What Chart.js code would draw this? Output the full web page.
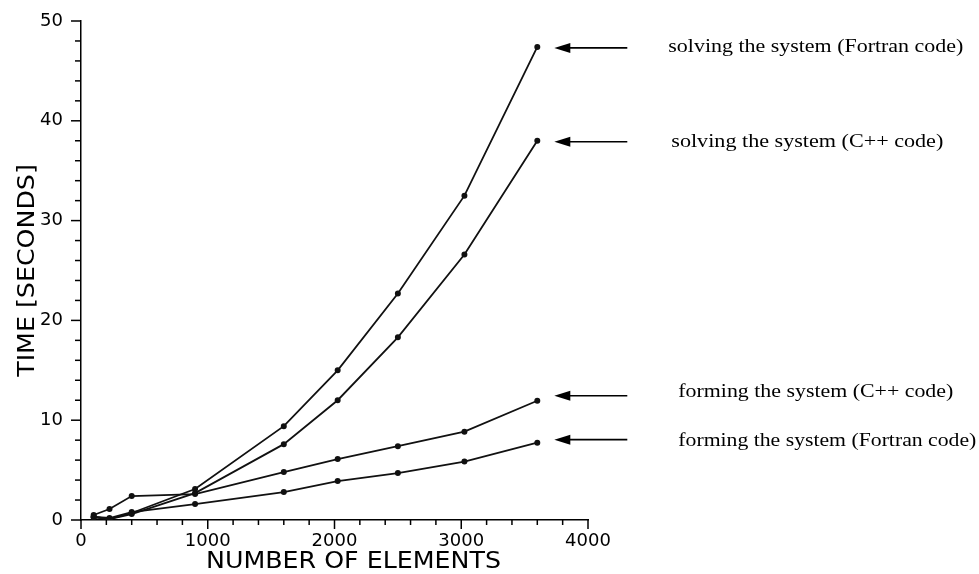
<!DOCTYPE html>
<html><head><meta charset="utf-8">
<script src="https://cdn.jsdelivr.net/npm/chart.js@4.4.1/dist/chart.umd.min.js"></script>
<style>html,body{margin:0;padding:0;background:#fff;}#wrap{width:979px;height:574px;}</style>
</head><body><div id="wrap"><canvas id="c" width="979" height="574"></canvas></div>
<script>
// ---- data ----
const elements = [100, 225, 400, 900, 1600, 2025, 2500, 3025, 3600];
const solvingFortran = [0.3, 0.1, 0.7, 3.1, 9.4, 15.0, 22.7, 32.5, 47.4];
const solvingCpp     = [0.3, 0.1, 0.6, 2.7, 7.6, 12.0, 18.3, 26.6, 38.0];
const formingCpp     = [0.5, 1.1, 2.4, 2.6, 4.8, 6.1, 7.4, 8.85, 11.95];
const formingFortran = [0.3, 0.2, 0.8, 1.6, 2.8, 3.9, 4.7, 5.85, 7.75];
const seriesLabels = [
  'solving the system (Fortran code)',
  'solving the system (C++ code)',
  'forming the system (C++ code)',
  'forming the system (Fortran code)'
];
const xTickLabels = [0, 1000, 2000, 3000, 4000];
const yTickLabels = [0, 10, 20, 30, 40, 50];
const xTitle = 'NUMBER OF ELEMENTS';
const yTitle = 'TIME [SECONDS]';

// ---- style ----
const labelStyle = [
  {textDx: 131, textDy: 0,  width: 295, arrowDy: 1},
  {textDx: 134, textDy: 1,  width: 272, arrowDy: 1},
  {textDx: 141, textDy: -9, width: 275, arrowDy: -5},
  {textDx: 141, textDy: -2, width: 298, arrowDy: -3}
];

const allSeries = [solvingFortran, solvingCpp, formingCpp, formingFortran];
const datasets = allSeries.map((vals, i) => ({
  label: seriesLabels[i],
  data: elements.map((x, j) => ({x: x, y: vals[j]})),
  borderColor: '#111', backgroundColor: '#111',
  borderWidth: 1.8, pointRadius: 2.1, pointHoverRadius: 2.1,
  showLine: true, tension: 0, fill: false
}));

const decor = {
  id: 'decor',
  afterDraw(chart) {
    const ctx = chart.ctx, xs = chart.scales.x, ys = chart.scales.y, ca = chart.chartArea;
    ctx.save();
    ctx.strokeStyle = '#000'; ctx.lineWidth = 1.5;
    // x ticks
    for (let v = 0; v <= 4000; v += 200) {
      const px = xs.getPixelForValue(v);
      const len = xTickLabels.includes(v) ? 9 : 5;
      ctx.beginPath(); ctx.moveTo(px, ca.bottom); ctx.lineTo(px, ca.bottom + len); ctx.stroke();
    }
    // y ticks
    for (let v = 0; v <= 50; v += 2) {
      const py = ys.getPixelForValue(v);
      const len = yTickLabels.includes(v) ? 10 : 6;
      ctx.beginPath(); ctx.moveTo(ca.left, py); ctx.lineTo(ca.left - len, py); ctx.stroke();
    }
    // axis titles
    ctx.fillStyle = '#000';
    ctx.font = '23px "DejaVu Sans"';
    ctx.textAlign = 'center'; ctx.textBaseline = 'middle';
    ctx.save();
    ctx.translate((ca.left + ca.right) / 2 + 19, 562);
    ctx.scale(1.1, 1);
    ctx.fillText(xTitle, 0, 0);
    ctx.restore();
    ctx.save();
    ctx.translate(28, (ca.top + ca.bottom) / 2);
    ctx.rotate(-Math.PI / 2);
    ctx.scale(1.1, 1);
    ctx.fillText(yTitle, 0, 0);
    ctx.restore();
    // arrows + labels
    allSeries.forEach((vals, i) => {
      const st = labelStyle[i];
      const ex = xs.getPixelForValue(elements[elements.length - 1]);
      const ey = ys.getPixelForValue(vals[vals.length - 1]);
      const ay = ey + st.arrowDy;
      const x0 = ex + 17, x1 = ex + 90;
      ctx.lineWidth = 1.7;
      ctx.beginPath(); ctx.moveTo(x0 + 10, ay); ctx.lineTo(x1, ay); ctx.stroke();
      ctx.beginPath(); ctx.moveTo(x0, ay); ctx.lineTo(x0 + 16, ay - 5); ctx.lineTo(x0 + 16, ay + 5); ctx.closePath(); ctx.fill();
      ctx.font = '19px "Liberation Serif"';
      ctx.textAlign = 'left'; ctx.textBaseline = 'middle';
      const w = ctx.measureText(seriesLabels[i]).width;
      ctx.save();
      ctx.translate(ex + st.textDx, ey + st.textDy);
      ctx.scale(st.width / w, 1);
      ctx.fillText(seriesLabels[i], 0, 0);
      ctx.restore();
    });
    ctx.restore();
  }
};

new Chart(document.getElementById('c'), {
  type: 'scatter',
  data: { datasets },
  options: {
    responsive: false, animation: false, devicePixelRatio: 1,
    layout: { padding: { left: 0, top: 21, right: 391, bottom: 0 } },
    plugins: { legend: { display: false }, tooltip: { enabled: false } },
    scales: {
      x: {
        type: 'linear', min: 0, max: 4000,
        afterBuildTicks: s => { s.ticks = xTickLabels.map(v => ({value: v})); },
        ticks: { autoSkip: false, maxRotation: 0, padding: 2, color: '#000',
          font: { family: 'DejaVu Sans', size: 18 }, callback: v => String(v) },
        grid: { drawOnChartArea: false, drawTicks: true, tickLength: 9, color: 'rgba(0,0,0,0)' },
        border: { display: true, color: '#000', width: 1.5 },
        afterFit: s => { s.height = 54; }
      },
      y: {
        type: 'linear', min: 0, max: 50,
        afterBuildTicks: s => { s.ticks = yTickLabels.map(v => ({value: v})); },
        ticks: { autoSkip: false, padding: 8, color: '#000',
          font: { family: 'DejaVu Sans', size: 18 }, callback: v => String(v) },
        grid: { drawOnChartArea: false, drawTicks: true, tickLength: 10, color: 'rgba(0,0,0,0)' },
        border: { display: true, color: '#000', width: 1.5 },
        afterFit: s => { s.width = 81; }
      }
    }
  },
  plugins: [decor]
});
</script></body></html>
